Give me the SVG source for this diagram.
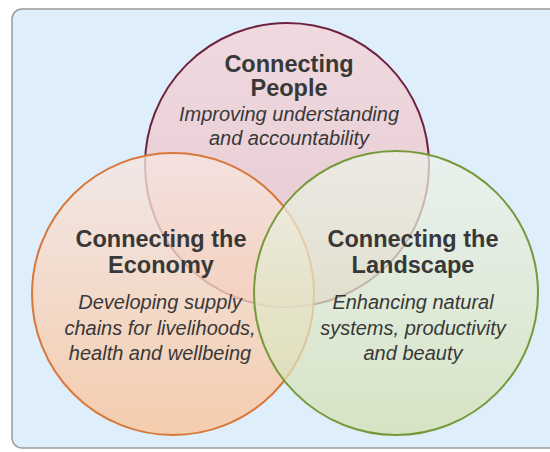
<svg xmlns="http://www.w3.org/2000/svg" width="550" height="452" viewBox="0 0 550 452">
<defs>
<linearGradient id="gPink" x1="0" y1="0" x2="0" y2="1">
<stop offset="0" stop-color="#f3d6da"/>
<stop offset="1" stop-color="#e4c2c8"/>
</linearGradient>
<linearGradient id="gOrange" x1="0" y1="0" x2="0" y2="1">
<stop offset="0" stop-color="#f6e6e2"/>
<stop offset="1" stop-color="#fbc398"/>
</linearGradient>
<linearGradient id="gGreen" x1="0" y1="0" x2="0" y2="1">
<stop offset="0" stop-color="#eef2ea"/>
<stop offset="1" stop-color="#d3e0b0"/>
</linearGradient>
<style>
.t{font-family:"Liberation Sans",Arial,sans-serif;fill:#383838;text-anchor:middle}
.h{font-weight:bold;font-size:23.5px}
.s{font-style:italic;font-size:20px}
</style>
</defs>
<rect x="12" y="9" width="550" height="439" rx="10" fill="#dfeefb" stroke="#9a9a9a" stroke-width="1.5"/>
<g id="people">
<circle cx="287" cy="165" r="142" fill="url(#gPink)" fill-opacity="0.85" stroke="#6e2240" stroke-width="2"/>
</g>
<g id="economy">
<circle cx="173" cy="294" r="141" fill="url(#gOrange)" fill-opacity="0.78" stroke="#d9773a" stroke-width="2"/>
</g>
<g id="landscape">
<circle cx="396" cy="293" r="142" fill="url(#gGreen)" fill-opacity="0.72" stroke="#76993a" stroke-width="2"/>
</g>
<g id="labels">
<text class="t h" x="289" y="72">Connecting</text>
<text class="t h" x="289" y="96">People</text>
<text class="t s" x="289" y="121">Improving understanding</text>
<text class="t s" x="289" y="145">and accountability</text>
<text class="t h" x="161" y="247">Connecting the</text>
<text class="t h" x="161" y="273">Economy</text>
<text class="t s" x="160" y="309">Developing supply</text>
<text class="t s" x="160" y="335">chains for livelihoods,</text>
<text class="t s" x="160" y="360">health and wellbeing</text>
<text class="t h" x="413" y="247">Connecting the</text>
<text class="t h" x="413" y="273">Landscape</text>
<text class="t s" x="413" y="309">Enhancing natural</text>
<text class="t s" x="413" y="335">systems, productivity</text>
<text class="t s" x="413" y="360">and beauty</text>
</g>
</svg>
